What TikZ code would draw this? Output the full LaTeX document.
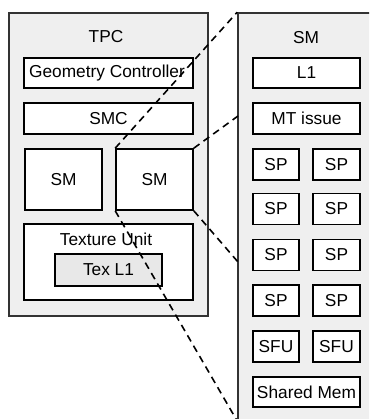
\documentclass[tikz,border=0pt]{standalone}
\usepackage{fontspec}
\setmainfont{Liberation Sans}
\definecolor{panel}{HTML}{EFEFEF}
\definecolor{texfill}{HTML}{E8E8E8}
\newcommand{\lab}{\fontsize{17.3}{20}\selectfont}
\tikzset{
  box/.style={draw=black, line width=1.6pt, fill=white, inner sep=0pt, font=\lab},
  container/.style={draw=black!80, line width=1.6pt, fill=panel, inner sep=0pt},
  title/.style={font=\lab, inner sep=0pt},
  link/.style={draw=black, line width=1.6pt, dash pattern=on 7pt off 5pt},
}
\begin{document}
\begin{tikzpicture}[x=1pt,y=-1pt]
\useasboundingbox (0,0) rectangle (369,419);
\clip (0,0) rectangle (369,419);
% containers
\node[container, minimum width=199pt, minimum height=303pt] (tpc) at (108.5,164.5) {};
\node[container, minimum width=137pt, minimum height=427pt] (smbig) at (306.5,226.5) {};
% TPC content
\node[title] (tpclbl) at (106,37) {TPC};
\node[box, minimum width=169pt, minimum height=30pt] (geo) at (108.5,73) {\hspace*{-3pt}Geometry Controller};
\node[box, minimum width=169pt, minimum height=31pt] (smc) at (108.5,118.5) {SMC};
\node[box, minimum width=77pt, minimum height=61pt] (smL) at (63.5,179.5) {SM};
\node[box, minimum width=77pt, minimum height=61pt] (smR) at (154.5,179.5) {SM};
\node[box, minimum width=169pt, minimum height=76pt] (tex) at (108.5,262) {};
\node[title] (texlbl) at (106,239) {Texture Unit};
\node[box, fill=texfill, minimum width=107pt, minimum height=32pt] (texl1) at (108.5,270) {Tex L1};
% SM content
\node[title] (smlbl) at (306,38) {SM};
\node[box, minimum width=107pt, minimum height=30pt] (l1) at (306.5,73) {L1};
\node[box, minimum width=107pt, minimum height=31pt] (mt) at (306.5,118.5) {MT issue};
\node[box, minimum width=46pt, minimum height=31pt] (spa1) at (276,164.5) {SP};
\node[box, minimum width=47pt, minimum height=31pt] (spb1) at (336.5,164.5) {SP};
\node[box, minimum width=46pt, minimum height=31pt] (spa2) at (276,209) {SP};
\node[box, minimum width=47pt, minimum height=31pt] (spb2) at (336.5,209) {SP};
\node[box, minimum width=46pt, minimum height=31pt] (spa3) at (276,255) {SP};
\node[box, minimum width=47pt, minimum height=31pt] (spb3) at (336.5,255) {SP};
\node[box, minimum width=46pt, minimum height=31pt] (spa4) at (276,300.5) {SP};
\node[box, minimum width=47pt, minimum height=31pt] (spb4) at (336.5,300.5) {SP};
\node[box, minimum width=46pt, minimum height=31pt] (sfua) at (276,346.5) {SFU};
\node[box, minimum width=47pt, minimum height=31pt] (sfub) at (336.5,346.5) {SFU};
\node[box, minimum width=107pt, minimum height=30pt] (shm) at (306.5,392) {Shared Mem};
% perspective links
\coordinate (c2) at (238,116);
\coordinate (c3) at (238,262);
\coordinate (c4) at (239.5,425);
\draw[link] (smR.north west) -- (smbig.north west);
\draw[link] (smR.north east) -- (c2);
\draw[link] (smR.south east) -- (c3);
\draw[link] (smR.south west) -- (c4);
\end{tikzpicture}
\end{document}
